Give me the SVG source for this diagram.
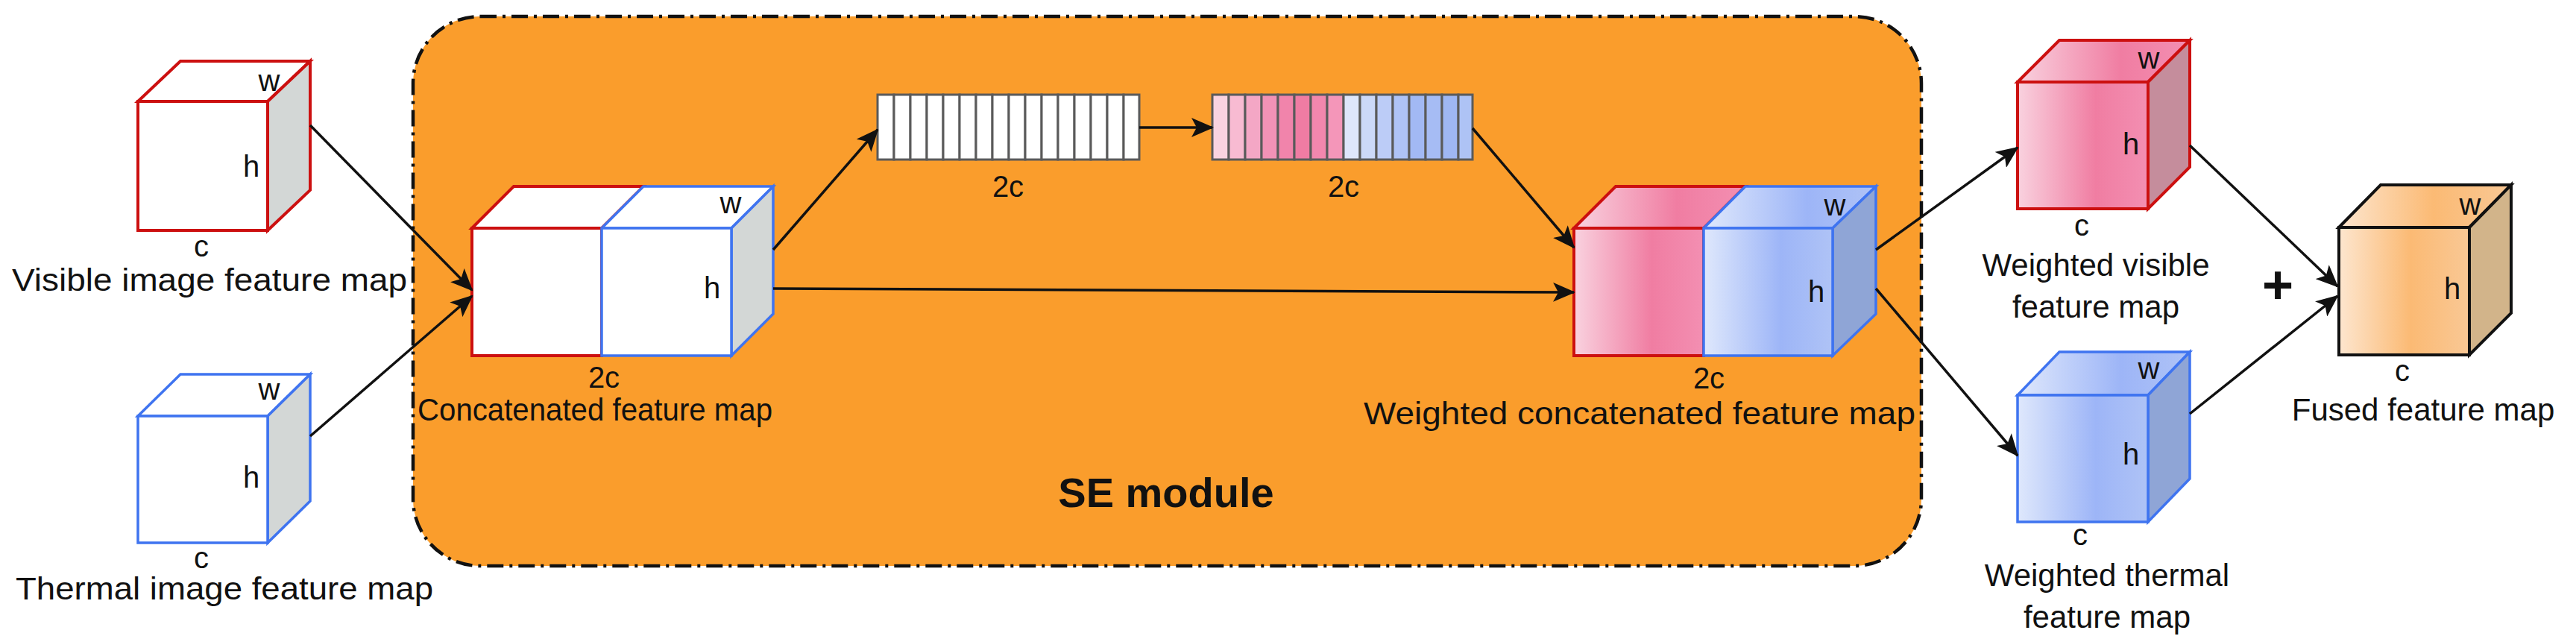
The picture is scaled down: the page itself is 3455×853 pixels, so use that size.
<svg xmlns="http://www.w3.org/2000/svg" width="3455" height="853" viewBox="0 0 3455 853">
<style>
text{font-family:"Liberation Sans",Arial,sans-serif;fill:#111;}
.lbl{font-size:42px;text-anchor:middle;}
.dim{font-size:40px;text-anchor:middle;}
.con{stroke:#111;stroke-width:3.5;fill:none;marker-end:url(#ah);}
.red{stroke:#CC1010;stroke-width:4;}
.blue{stroke:#3F74F0;stroke-width:3.5;}
.blk{stroke:#111;stroke-width:4;}
.cell{stroke:#5a5a5a;stroke-width:3;}
</style>
<defs>
<marker id="ah" markerUnits="userSpaceOnUse" markerWidth="30" markerHeight="26" refX="28" refY="13" orient="auto"><path d="M0,0 L30,13 L0,26 L7,13 Z" fill="#111"/></marker>
<linearGradient id="gp" x1="0" x2="1" y1="0" y2="0"><stop offset="0" stop-color="#F9D2DF"/><stop offset="0.6" stop-color="#F07DA2"/><stop offset="1" stop-color="#F38FB2"/></linearGradient>
<linearGradient id="gb" x1="0" x2="1" y1="0" y2="0"><stop offset="0" stop-color="#DFE8FC"/><stop offset="0.6" stop-color="#9DB5F7"/><stop offset="1" stop-color="#AFC3F6"/></linearGradient>
<linearGradient id="go" x1="0" x2="1" y1="0" y2="0"><stop offset="0" stop-color="#FDE6CF"/><stop offset="0.55" stop-color="#FBBA74"/><stop offset="1" stop-color="#F9C895"/></linearGradient>
</defs>
<rect width="3455" height="853" fill="#fff"/>
<g id="se-module">
<rect x="554" y="22" width="2023" height="737" rx="90" fill="#FA9D2C" stroke="#111" stroke-width="4.5" stroke-dasharray="22,8,4,8"/>
<text x="1564" y="680" font-size="56" font-weight="bold" text-anchor="middle">SE module</text>
</g>
<g id="visible">
<polygon points="185,136 242,82 416,82 359,136" fill="#fff" class="red"/>
<polygon points="359,136 416,82 416,255 359,309" fill="#D3D7D6" class="red"/>
<rect x="185" y="136" width="174" height="173" fill="#fff" class="red"/>
<text x="361" y="122" class="dim">w</text><text x="337" y="237" class="dim">h</text><text x="270" y="344" class="dim">c</text>
<text x="281" y="390" class="lbl" textLength="530" lengthAdjust="spacingAndGlyphs">Visible image feature map</text>
</g>
<g id="thermal">
<polygon points="185,558 242,502 416,502 359,558" fill="#fff" class="blue"/>
<polygon points="359,558 416,502 416,672 359,728" fill="#D3D7D6" class="blue"/>
<rect x="185" y="558" width="174" height="170" fill="#fff" class="blue"/>
<text x="361" y="536" class="dim">w</text><text x="337" y="654" class="dim">h</text><text x="270" y="762" class="dim">c</text>
<text x="301" y="804" class="lbl" textLength="560" lengthAdjust="spacingAndGlyphs">Thermal image feature map</text>
</g>
<g id="concat">
<polygon points="633,306 689,250 863,250 807,306" fill="#fff" class="red"/>
<polygon points="807,306 863,250 1037,250 981,306" fill="#fff" class="blue"/>
<polygon points="981,306 1037,250 1037,421 981,477" fill="#D3D7D6" class="blue"/>
<rect x="633" y="306" width="174" height="171" fill="#fff" class="red"/>
<rect x="807" y="306" width="174" height="171" fill="#fff" class="blue"/>
<text x="980" y="286" class="dim">w</text><text x="955" y="400" class="dim">h</text><text x="810" y="520" class="dim">2c</text>
<text x="798" y="564" class="lbl" textLength="476" lengthAdjust="spacingAndGlyphs">Concatenated feature map</text>
</g>
<g id="vec1">
<g fill="#fff" class="cell">
<rect x="1177" y="127" width="22" height="87"/><rect x="1199" y="127" width="22" height="87"/><rect x="1221" y="127" width="22" height="87"/><rect x="1243" y="127" width="22" height="87"/>
<rect x="1265" y="127" width="22" height="87"/><rect x="1287" y="127" width="22" height="87"/><rect x="1309" y="127" width="22" height="87"/><rect x="1331" y="127" width="22" height="87"/>
<rect x="1353" y="127" width="22" height="87"/><rect x="1375" y="127" width="22" height="87"/><rect x="1397" y="127" width="22" height="87"/><rect x="1419" y="127" width="22" height="87"/>
<rect x="1441" y="127" width="22" height="87"/><rect x="1463" y="127" width="22" height="87"/><rect x="1485" y="127" width="22" height="87"/><rect x="1507" y="127" width="21" height="87"/>
</g>
<text x="1352" y="264" class="dim">2c</text>
</g>
<g id="vec2">
<g class="cell">
<rect x="1626" y="127" width="22" height="87" fill="#F9D3E0"/><rect x="1648" y="127" width="22" height="87" fill="#F8BBD2"/><rect x="1670" y="127" width="22" height="87" fill="#F4A7C5"/><rect x="1692" y="127" width="22" height="87" fill="#F292B6"/>
<rect x="1714" y="127" width="22" height="87" fill="#F184AB"/><rect x="1736" y="127" width="22" height="87" fill="#F07CA3"/><rect x="1758" y="127" width="22" height="87" fill="#F287AE"/><rect x="1780" y="127" width="22" height="87" fill="#F496B9"/>
<rect x="1802" y="127" width="22" height="87" fill="#DEE6FB"/><rect x="1824" y="127" width="22" height="87" fill="#CCD9F8"/><rect x="1846" y="127" width="22" height="87" fill="#BCCCF7"/><rect x="1868" y="127" width="22" height="87" fill="#AFC3F6"/>
<rect x="1890" y="127" width="22" height="87" fill="#A2B9F4"/><rect x="1912" y="127" width="22" height="87" fill="#A6BCF4"/><rect x="1934" y="127" width="22" height="87" fill="#9FB7F3"/><rect x="1956" y="127" width="19" height="87" fill="#AEC3F5"/>
</g>
<text x="1802" y="264" class="dim">2c</text>
</g>
<g id="weighted-concat">
<polygon points="2111,306 2167,250 2341,250 2285,306" fill="url(#gp)" class="red"/>
<polygon points="2285,306 2341,250 2516,250 2458,306" fill="url(#gb)" class="blue"/>
<polygon points="2458,306 2516,250 2516,421 2458,477" fill="#8FA5D6" class="blue"/>
<rect x="2111" y="306" width="174" height="171" fill="url(#gp)" class="red"/>
<rect x="2285" y="306" width="173" height="171" fill="url(#gb)" class="blue"/>
<text x="2461" y="289" class="dim">w</text><text x="2436" y="405" class="dim">h</text><text x="2292" y="521" class="dim">2c</text>
<text x="2199" y="569" class="lbl" textLength="740" lengthAdjust="spacingAndGlyphs">Weighted concatenated feature map</text>
</g>
<g id="weighted-visible">
<polygon points="2706,110 2762,54 2937,54 2881,110" fill="url(#gp)" class="red"/>
<polygon points="2881,110 2937,54 2937,224 2881,280" fill="#C58D9C" class="red"/>
<rect x="2706" y="110" width="175" height="170" fill="url(#gp)" class="red"/>
<text x="2882" y="92" class="dim">w</text><text x="2858" y="207" class="dim">h</text><text x="2792" y="316" class="dim">c</text>
<text x="2811" y="370" class="lbl">Weighted visible</text>
<text x="2811" y="426" class="lbl">feature map</text>
</g>
<g id="weighted-thermal">
<polygon points="2706,530 2762,472 2937,472 2881,530" fill="url(#gb)" class="blue"/>
<polygon points="2881,530 2937,472 2937,642 2881,700" fill="#8FA5D6" class="blue"/>
<rect x="2706" y="530" width="175" height="170" fill="url(#gb)" class="blue"/>
<text x="2882" y="508" class="dim">w</text><text x="2858" y="623" class="dim">h</text><text x="2790" y="731" class="dim">c</text>
<text x="2826" y="786" class="lbl">Weighted thermal</text>
<text x="2826" y="842" class="lbl">feature map</text>
</g>
<g id="fused">
<polygon points="3137,305 3193,248 3368,248 3312,305" fill="url(#go)" class="blk"/>
<polygon points="3312,305 3368,248 3368,420 3312,476" fill="#D2B48A" class="blk"/>
<rect x="3137" y="305" width="175" height="171" fill="url(#go)" class="blk"/>
<text x="3313" y="288" class="dim">w</text><text x="3289" y="401" class="dim">h</text><text x="3222" y="511" class="dim">c</text>
<text x="3250" y="564" class="lbl">Fused feature map</text>
</g>
<text x="3055" y="407" font-size="72" font-weight="bold" text-anchor="middle">+</text>
<g id="connectors">
<line class="con" x1="416" y1="168" x2="633" y2="389"/>
<line class="con" x1="416" y1="585" x2="633" y2="397"/>
<line class="con" x1="1037" y1="335" x2="1177" y2="174"/>
<line class="con" x1="1528" y1="171" x2="1626" y2="171"/>
<line class="con" x1="1037" y1="387" x2="2111" y2="392"/>
<line class="con" x1="1975" y1="172" x2="2111" y2="332"/>
<line class="con" x1="2516" y1="335" x2="2706" y2="198"/>
<line class="con" x1="2516" y1="387" x2="2706" y2="611"/>
<line class="con" x1="2937" y1="195" x2="3135" y2="384"/>
<line class="con" x1="2937" y1="555" x2="3135" y2="397"/>
</g>
</svg>
